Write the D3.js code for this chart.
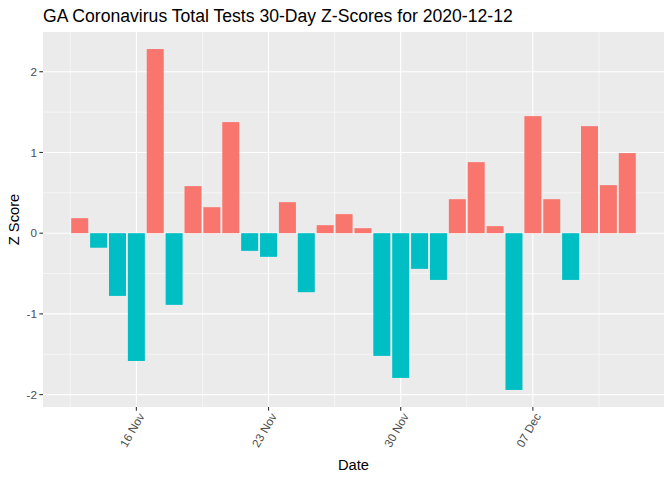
<!DOCTYPE html>
<html><head><meta charset="utf-8">
<script src="https://cdn.jsdelivr.net/npm/d3@7"></script>
<style>body{margin:0;background:#fff}svg{display:block;font-family:"Liberation Sans",Arial,sans-serif}</style>
</head><body>
<svg id="c" width="672" height="480"></svg>
<script>
const startDate = "2020-11-13";
const zScores = [0.186,-0.18,-0.777,-1.583,2.281,-0.888,0.583,0.322,1.376,-0.219,-0.293,0.384,-0.731,0.099,0.236,0.062,-1.52,-1.793,-0.442,-0.579,0.421,0.880,0.087,-1.942,1.450,0.421,-0.579,1.326,0.595,0.992];
const xTickDates = ["2020-11-16","2020-11-23","2020-11-30","2020-12-07"];
const xMinorDates = ["2020-11-12T12:00","2020-11-19T12:00","2020-11-26T12:00","2020-12-03T12:00","2020-12-10T12:00"];
const yTicks = [-2,-1,0,1,2];
const yMinor = [-1.5,-0.5,0.5,1.5];
const titleText = "GA Coronavirus Total Tests 30-Day Z-Scores for 2020-12-12";

const parse = d3.timeParse("%Y-%m-%d");
const parseT = d3.timeParse("%Y-%m-%dT%H:%M");
const DAY = 864e5;
const s0 = parse(startDate);
const data = zScores.map((v,i)=>({date:new Date(s0.getTime()+i*DAY), v}));

const svg = d3.select("#c");
const L=43, R=664, T=32, B=407;

const dMin = data[0].date.getTime()-0.45*DAY, dMax = data[data.length-1].date.getTime()+0.45*DAY;
const dpad = (dMax-dMin)*0.05;
const x = d3.scaleTime().domain([new Date(dMin-dpad), new Date(dMax+dpad)]).range([L,R]);
const vMin = Math.min(0,d3.min(zScores)), vMax = Math.max(0,d3.max(zScores));
const vpad = (vMax-vMin)*0.05;
const y = d3.scaleLinear().domain([vMin-vpad, vMax+vpad]).range([B,T]);

svg.append("rect").attr("x",L).attr("y",T).attr("width",R-L).attr("height",B-T).attr("fill","#EBEBEB");
const g = svg.append("g");
g.selectAll(".ymin").data(yMinor).join("line").attr("x1",L).attr("x2",R).attr("y1",d=>y(d)).attr("y2",d=>y(d)).attr("stroke","#fff").attr("stroke-width",0.55);
g.selectAll(".xmin").data(xMinorDates.map(parseT)).join("line").attr("y1",T).attr("y2",B).attr("x1",d=>x(d)).attr("x2",d=>x(d)).attr("stroke","#fff").attr("stroke-width",0.55);
g.selectAll(".ymaj").data(yTicks).join("line").attr("x1",L).attr("x2",R).attr("y1",d=>y(d)).attr("y2",d=>y(d)).attr("stroke","#fff").attr("stroke-width",1.1);
g.selectAll(".xmaj").data(xTickDates.map(parse)).join("line").attr("y1",T).attr("y2",B).attr("x1",d=>x(d)).attr("x2",d=>x(d)).attr("stroke","#fff").attr("stroke-width",1.1);

const bw = x(new Date(s0.getTime()+0.9*DAY)) - x(s0);
svg.selectAll(".bar").data(data).join("rect")
  .attr("x",d=>x(d.date)-bw/2).attr("width",bw)
  .attr("y",d=>y(Math.max(0,d.v))).attr("height",d=>Math.abs(y(d.v)-y(0)))
  .attr("fill",d=>d.v>0?"#F8766D":"#00BFC4");

// y axis
const ya = svg.append("g");
ya.selectAll("line").data(yTicks).join("line").attr("x1",L-3.65).attr("x2",L).attr("y1",d=>y(d)).attr("y2",d=>y(d)).attr("stroke","#333").attr("stroke-width",1.1);
ya.selectAll("text").data(yTicks).join("text").attr("x",L-6).attr("y",d=>y(d)).attr("dy","0.35em").attr("text-anchor","end").attr("font-size",11.7).attr("fill","#4D4D4D").text(d=>d);

// x axis
const xa = svg.append("g");
const fmt = d3.timeFormat("%d %b");
xa.selectAll("line").data(xTickDates.map(parse)).join("line").attr("y1",B).attr("y2",B+3.65).attr("x1",d=>x(d)).attr("x2",d=>x(d)).attr("stroke","#333").attr("stroke-width",1.1);
xa.selectAll("text").data(xTickDates.map(parse)).join("text")
  .attr("transform",d=>`translate(${x(d)+5},${B+7}) rotate(-60)`)
  .attr("text-anchor","end").attr("dy","0.35em").attr("font-size",11.7).attr("fill","#4D4D4D").text(d=>fmt(d));

svg.append("text").attr("x",(L+R)/2).attr("y",470).attr("text-anchor","middle").attr("font-size",14.7).attr("fill","#000").text("Date");
svg.append("text").attr("transform",`translate(19,${(T+B)/2}) rotate(-90)`).attr("text-anchor","middle").attr("font-size",14.7).attr("fill","#000").text("Z Score");
svg.append("text").attr("x",L).attr("y",22).attr("font-size",17.6).attr("fill","#000").text(titleText);
</script>
</body></html>
